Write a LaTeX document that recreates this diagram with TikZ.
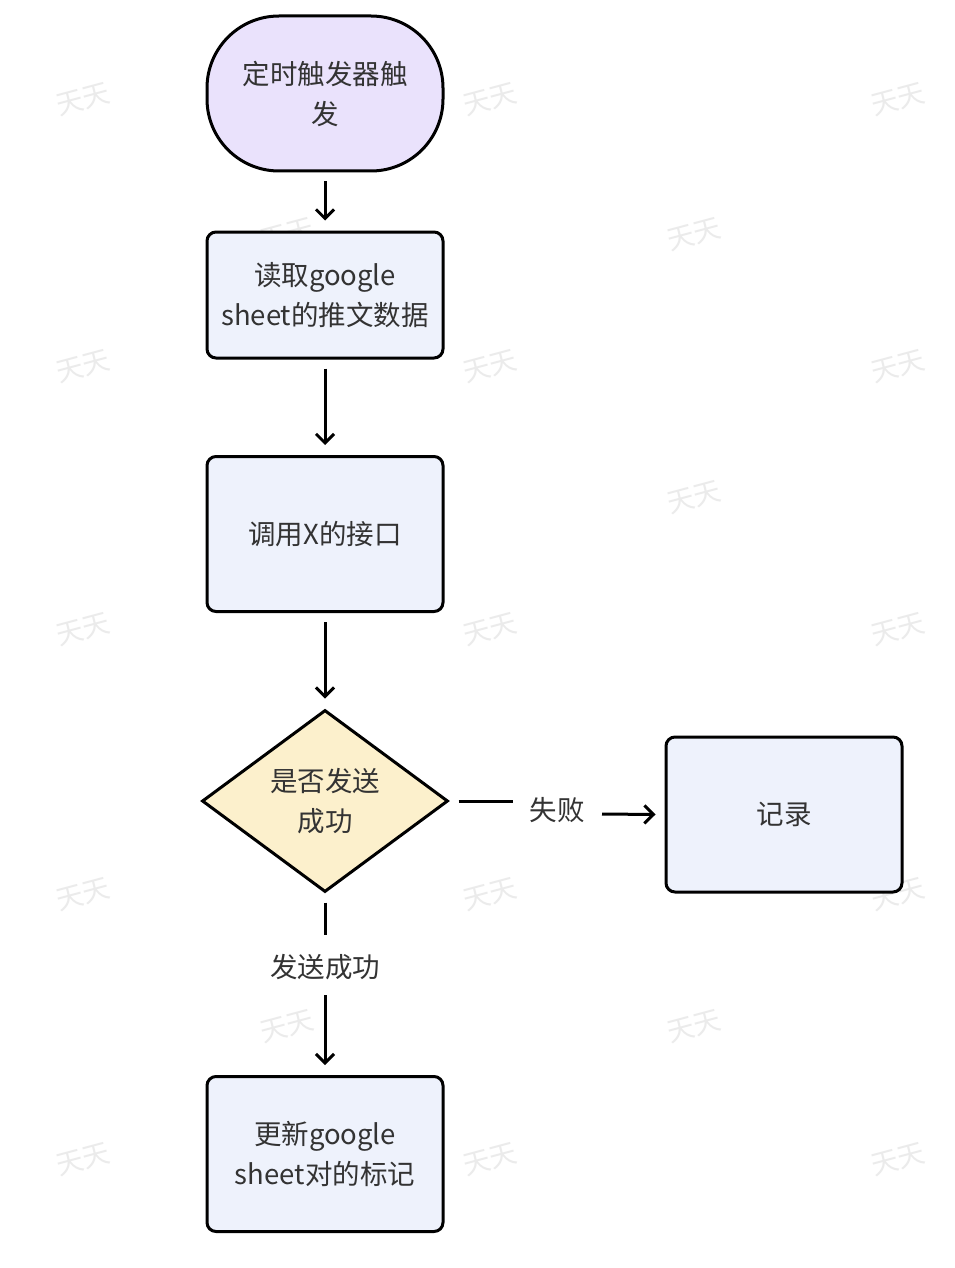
\documentclass[tikz,border=0pt]{standalone}
\usepackage{fontspec}
\setmainfont{Noto Sans CJK SC}
\usetikzlibrary{shapes.geometric,arrows.meta}
\definecolor{txt}{HTML}{333333}
\definecolor{startfill}{HTML}{EAE2FC}
\definecolor{boxfill}{HTML}{EEF2FC}
\definecolor{decfill}{HTML}{FCF0CC}
\definecolor{wm}{HTML}{EBEBEB}
\tikzset{
  base/.style={draw=black, line width=3pt, text=txt, font=\fontsize{27.5}{40}\selectfont, align=center},
  proc/.style={base, rectangle, rounded corners=9pt, fill=boxfill, minimum width=236pt, minimum height=155pt, inner sep=0pt},
  startbox/.style={base, rectangle, rounded corners=72pt, fill=startfill, minimum width=236pt, minimum height=155pt, inner sep=0pt},
  dec/.style={base, diamond, fill=decfill, minimum width=246pt, minimum height=182pt, inner sep=0pt},
  conn/.style={line width=3pt, black},
  arr/.style={conn, -{Straight Barb[length=9pt,width=18pt,line width=3pt]}},
  lbl/.style={text=txt, font=\fontsize{27.5}{40}\selectfont, inner sep=0pt},
  wmk/.style={text=wm, font=\fontsize{27}{30}\selectfont, rotate=15, inner sep=0pt}
}
\begin{document}
\begin{tikzpicture}[x=1pt,y=-1pt]
\useasboundingbox (0,0) rectangle (954,1268);
\fill[white] (0,0) rectangle (954,1268);
% watermarks
\foreach \x/\y [count=\i] in {83/100,490/100,898/100,287/235,694/235,83/367,490/367,898/367,287/498,694/498,83/630,490/630,898/630,287/762,694/762,83/895,490/895,898/895,287/1027,694/1027,83/1160,490/1160,898/1160}
  \node[wmk] (wm\i) at (\x,\y) {天天};
% nodes
\node[startbox] (start) at (325,93.5) {定时触发器触\\发};
\node[proc, minimum height=126pt] (read) at (325,295) {读取google\\sheet的推文数据};
\node[proc] (call) at (325,534) {调用X的接口};
\node[dec] (ok) at (325,801) {是否发送\\成功};
\node[proc] (log) at (784,814.5) {记录};
\node[proc] (upd) at (325,1154) {更新google\\sheet对的标记};
% connectors
\draw[arr] ([yshift=-9pt]start.south) -- ([yshift=10pt]read.north);
\draw[arr] ([yshift=-9pt]read.south) -- ([yshift=10pt]call.north);
\draw[arr] ([yshift=-9pt]call.south) -- ([yshift=10pt]ok.north);
\node[lbl] (lsucc) at (325,967) {发送成功};
\coordinate (s1) at (325,935);
\coordinate (s2) at (325,995);
\draw[conn] ([yshift=-9pt]ok.south) -- (s1);
\draw[arr] (s2) -- ([yshift=10pt]upd.north);
\node[lbl] (lfail) at (557,810) {失败};
\coordinate (f1) at (513,801);
\coordinate (f2) at (602,814);
\draw[conn] ([xshift=9pt]ok.east) -- (f1);
\draw[arr] (f2) -- ([xshift=-9pt]log.west);
\end{tikzpicture}
\end{document}
